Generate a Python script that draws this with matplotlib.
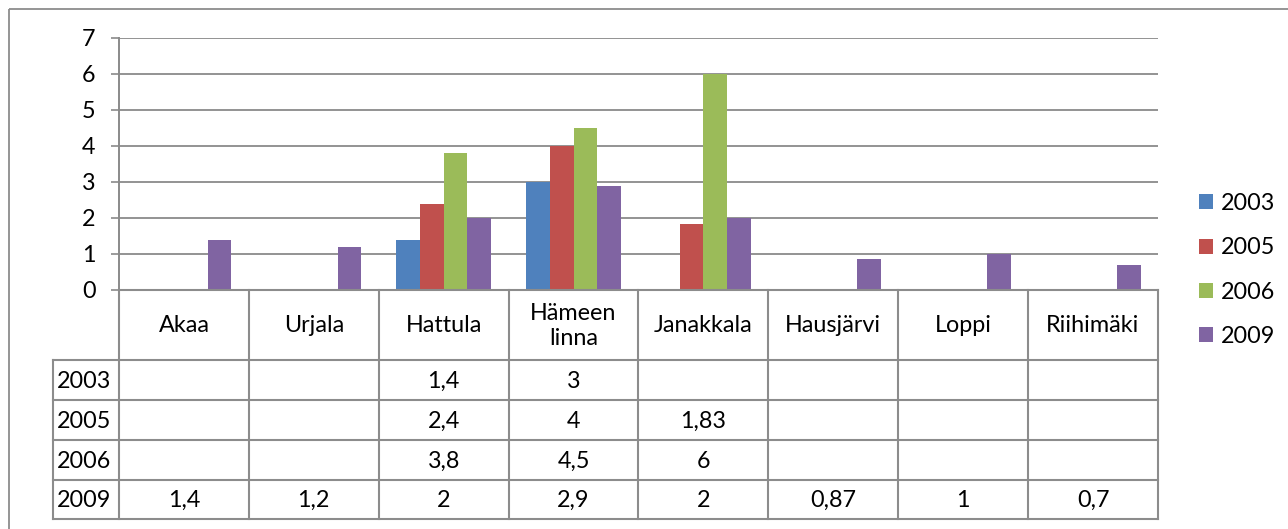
import matplotlib
matplotlib.use("Agg")
import matplotlib.pyplot as plt
from matplotlib.patches import Rectangle
import numpy as np

plt.rcParams['font.family'] = ['Lato', 'DejaVu Sans']

categories = ["Akaa", "Urjala", "Hattula", "Hämeen\nlinna", "Janakkala", "Hausjärvi", "Loppi", "Riihimäki"]
years = ["2003", "2005", "2006", "2009"]
v2003 = [None, None, 1.4, 3, None, None, None, None]
v2005 = [None, None, 2.4, 4, 1.83, None, None, None]
v2006 = [None, None, 3.8, 4.5, 6, None, None, None]
v2009 = [1.4, 1.2, 2, 2.9, 2, 0.87, 1, 0.7]
series = [v2003, v2005, v2006, v2009]
colors = ["#4F81BD", "#C0504D", "#9BBB59", "#8064A2"]
yticks = [0, 1, 2, 3, 4, 5, 6, 7]

FS = 16.8
W, H = 1288, 529
fig = plt.figure(figsize=(W / 100, H / 100), dpi=100)

L, R, T, B = 119, 1158, 38, 290
ax = fig.add_axes([L / W, 1 - B / H, (R - L) / W, (B - T) / H])
n = len(categories)
ax.set_xlim(-0.5, n - 0.5)
ax.set_ylim(0, 7)
grid_c = "#8A8A8A"
for s in ax.spines.values():
    s.set_visible(False)
ax.spines['left'].set_visible(True)
ax.spines['left'].set_color(grid_c)
ax.spines['left'].set_linewidth(1.4)
ax.set_yticks(yticks)
ax.set_yticklabels([str(t) for t in yticks])
ax.tick_params(axis='y', length=6, width=1.2, color=grid_c, pad=11, labelsize=FS)
ax.set_xticks([])
ax.yaxis.grid(True, color=grid_c, linewidth=1.3)
ax.set_axisbelow(True)

bw = 0.183
x = np.arange(n)
for i, (vals, c, yr) in enumerate(zip(series, colors, years)):
    h = [v if v is not None else 0 for v in vals]
    ax.bar(x + (i - 1.5) * bw, h, width=bw, color=c, label=yr, zorder=3)

leg = fig.legend(loc='upper left', bbox_to_anchor=(1199 / W, 1 - 193 / H), frameon=False,
                 fontsize=FS, handlelength=0.62, handleheight=0.62, handletextpad=0.3,
                 labelspacing=1.0, borderaxespad=0, borderpad=0)

# table overlay in pixel coordinates
tax = fig.add_axes([0, 0, 1, 1])
tax.set_xlim(0, W)
tax.set_ylim(H, 0)
tax.axis('off')
tax.patch.set_alpha(0)

tc = "#8C8C8C"
tlw = 1.5
colw = (R - L) / n
label_left = 53
row_tops = [360, 400, 440, 480, 519]
# outer frame
tax.add_patch(Rectangle((9, 9), W + 20, H + 20, fill=False, edgecolor="#8C8C8C", lw=1.3))
# header lines
tax.plot([L, R], [B, B], color=tc, lw=tlw)
for j in range(n + 1):
    xx = L + j * colw
    tax.plot([xx, xx], [B, row_tops[-1]], color=tc, lw=tlw)
tax.plot([label_left, label_left], [row_tops[0], row_tops[-1]], color=tc, lw=tlw)
for yy in row_tops:
    tax.plot([label_left, R], [yy, yy], color=tc, lw=tlw)

for j, cat in enumerate(categories):
    tax.text(L + (j + 0.5) * colw, (B + row_tops[0]) / 2 + 1, cat, ha='center', va='center',
             fontsize=FS, linespacing=1.2)


def fmt(v):
    return ('%g' % v).replace('.', ',')


for r, (yr, vals) in enumerate(zip(years, series)):
    yc = (row_tops[r] + row_tops[r + 1]) / 2 + 1
    tax.text(label_left + 4, yc, yr, ha='left', va='center', fontsize=FS)
    for j, v in enumerate(vals):
        if v is not None:
            tax.text(L + (j + 0.5) * colw, yc, fmt(v), ha='center', va='center', fontsize=FS)

fig.savefig("out.png", dpi=100)
